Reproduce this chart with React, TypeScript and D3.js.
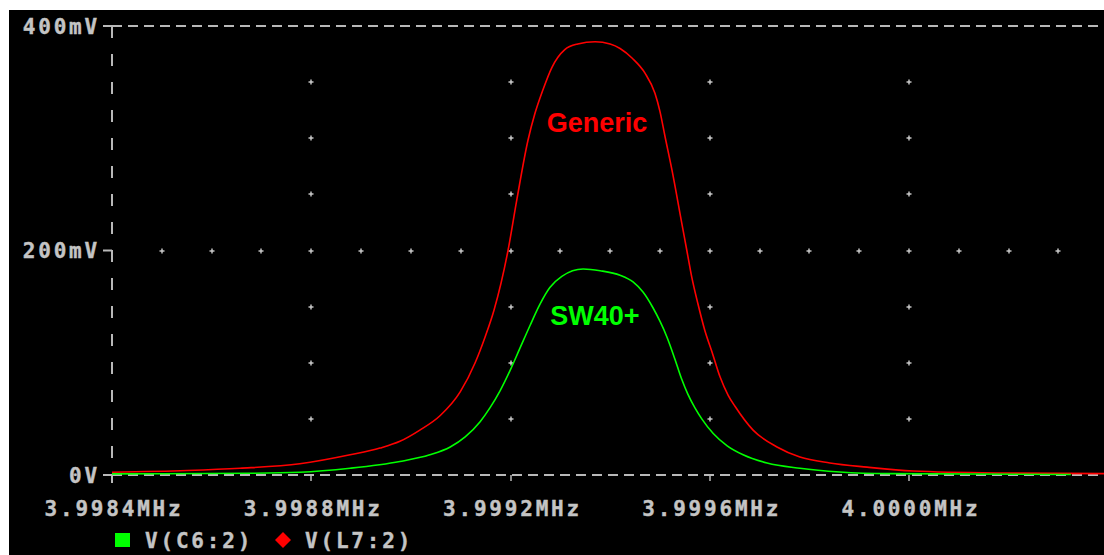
import React from "react";
import { scaleLinear, line, curveMonotoneX, range } from "d3";

// frequencies in MHz, voltages in mV
const genericFreq = [
  3.9984, 3.998551, 3.998657, 3.998777, 3.998878, 3.998938, 3.998978, 3.999018,
  3.999059, 3.999099, 3.999129, 3.999149, 3.999167, 3.999195, 3.999213, 3.999235,
  3.999249, 3.999265, 3.999283, 3.999309, 3.999335, 3.99937, 3.9994, 3.99942,
  3.999445, 3.99947, 3.99949, 3.9995, 3.99951, 3.999524, 3.999544, 3.999554,
  3.999564, 3.999576, 3.99959, 3.999605, 3.999621, 3.999637, 3.999651, 3.999687,
  3.999735, 3.999781, 3.999841, 3.999916, 4.000008, 4.000183, 4.0004,
];
const genericMv = [
  2.5, 4, 6, 10, 18, 24, 30, 40, 53, 74, 100, 123, 147, 200, 246, 298, 322, 343,
  363, 379, 384, 386, 384, 380, 371, 358, 340, 324, 302, 272, 224, 200, 176, 153,
  129, 109, 87, 71, 61, 40, 25, 16, 10.7, 7, 3.6, 1.8, 1.2,
];

const sw40Freq = [
  3.9984, 3.998677, 3.998777, 3.998878, 3.998978, 3.999038, 3.999079, 3.999109,
  3.999139, 3.999159, 3.999179, 3.999199, 3.999219, 3.999239, 3.999259, 3.999279,
  3.999303, 3.999346, 3.99938, 3.99942, 3.999446, 3.999466, 3.999486, 3.9995,
  3.999514, 3.999524, 3.999534, 3.999544, 3.999556, 3.99957, 3.999584, 3.999607,
  3.999635, 3.999667, 3.999715, 3.999781, 3.999861, 3.999962, 4.000325,
];
const sw40Mv = [
  1, 1.5, 2.4, 6, 12, 18, 25, 34, 47.5, 60, 75, 93, 113, 133, 152, 167, 177,
  183.5, 182, 178, 172, 163, 149, 137, 123, 111, 98, 85, 72, 60, 50, 37, 26, 18,
  10.7, 6, 2.7, 1.2, 0.5,
];

const xTicks = [3.9984, 3.9988, 3.9992, 3.9996, 4.0];
const xTickLabels = ["3.9984MHz", "3.9988MHz", "3.9992MHz", "3.9996MHz", "4.0000MHz"];
const yTicks = [0, 200, 400];
const yTickLabels = ["0V", "200mV", "400mV"];
const legendLabels = ["V(C6:2)", "V(L7:2)"];

const W = 1104;
const H = 555;
const GRAY = "#b8b8b8";
const TEXT = "#c4c4c4";
const RED = "#ff0000";
const GREEN = "#00ff00";
const MONO = "'DejaVu Sans Mono', monospace";

function Plus({ x, y }: { x: number; y: number }) {
  return (
    <g stroke="#d0d0d0" strokeWidth={1.4}>
      <line x1={x - 2.5} x2={x + 2.5} y1={y} y2={y} />
      <line x1={x} x2={x} y1={y - 2.5} y2={y + 2.5} />
    </g>
  );
}

export default function App() {
  const x = scaleLinear().domain([3.9984, 4.0004]).range([112, 112 + 199.25 * 5]);
  const y = scaleLinear().domain([0, 400]).range([475, 26]);

  const mk = line<[number, number]>()
    .x((d) => x(d[0]))
    .y((d) => y(d[1]))
    .curve(curveMonotoneX);

  const redPath = mk(genericFreq.map((f, i) => [f, genericMv[i]]) as [number, number][]) ?? "";
  const greenPath = mk(sw40Freq.map((f, i) => [f, sw40Mv[i]]) as [number, number][]) ?? "";

  // grid dots: vertical rows at inner x ticks, horizontal row at 200mV
  const dotY = [50, 100, 150, 250, 300, 350];
  const dotX = range(0, 19).map((i) => 3.9985 + i * 0.0001);

  const x0 = x(3.9984);
  const y0 = y(0);
  const yTop = y(400);

  return (
    <svg
      width={W}
      height={H}
      style={{ position: "absolute", left: 0, top: 0, display: "block" }}
    >
      <rect x={0} y={0} width={W} height={H} fill="#fff" />
      <rect x={9} y={10} width={W - 9} height={H - 10} fill="#000" />

      {/* grid dots */}
      {xTicks.slice(1).map((t) =>
        dotY.map((v) => <Plus key={`${t}-${v}`} x={Math.round(x(t))} y={Math.round(y(v))} />)
      )}
      {dotX.map((t) => (
        <Plus key={`h-${t}`} x={Math.round(x(t))} y={Math.round(y(200))} />
      ))}

      {/* frame: dashed top, left, bottom */}
      <g stroke={GRAY} strokeWidth={2} fill="none">
        <line x1={x0} x2={W} y1={yTop} y2={yTop} strokeDasharray="10 6" />
        <line x1={x0} x2={W} y1={y0} y2={y0} strokeDasharray="10 6" />
        <line x1={x0} x2={x0} y1={yTop} y2={y0} strokeDasharray="12 16" />
        {yTicks.map((t) => (
          <line key={t} x1={x0 - 9} x2={x0} y1={y(t)} y2={y(t)} />
        ))}
        <line x1={x0} x2={x0} y1={y0} y2={y0 + 8} />
        {xTicks.slice(1).map((t) => (
          <line key={t} x1={Math.round(x(t))} x2={Math.round(x(t))} y1={y0} y2={y0 + 6} strokeWidth={1.5} />
        ))}
      </g>

      {/* curves */}
      <path d={redPath} fill="none" stroke={RED} strokeWidth={1.6} />
      <path d={greenPath} fill="none" stroke={GREEN} strokeWidth={1.6} />

      {/* annotations */}
      <text
        x={597}
        y={132}
        textAnchor="middle"
        fill={RED}
        fontFamily="'Liberation Sans', Arial, sans-serif"
        fontWeight="bold"
        fontSize={27}
      >
        Generic
      </text>
      <text
        x={595}
        y={325}
        textAnchor="middle"
        fill={GREEN}
        fontFamily="'Liberation Sans', Arial, sans-serif"
        fontWeight="bold"
        fontSize={27}
      >
        SW40+
      </text>

      {/* axis labels */}
      <g
        fill={TEXT}
        stroke={TEXT}
        strokeWidth={0.4}
        fontFamily={MONO}
        fontWeight="bold"
        fontSize={21}
        letterSpacing={2.8}
      >
        {yTicks.map((t, i) => (
          <text key={t} x={100} y={y(t)} dy="0.36em" textAnchor="end">
            {yTickLabels[i]}
          </text>
        ))}
        {xTicks.map((t, i) => (
          <text key={t} x={x(t) + 2} y={508} dy="0.36em" textAnchor="middle">
            {xTickLabels[i]}
          </text>
        ))}
        <text x={145} y={540} dy="0.36em">
          {legendLabels[0]}
        </text>
        <text x={305} y={540} dy="0.36em">
          {legendLabels[1]}
        </text>
      </g>

      {/* legend symbols */}
      <rect x={115} y={533} width={15} height={14} fill={GREEN} />
      <path d="M283,532 L291,540 L283,548 L275,540 Z" fill={RED} />
    </svg>
  );
}
